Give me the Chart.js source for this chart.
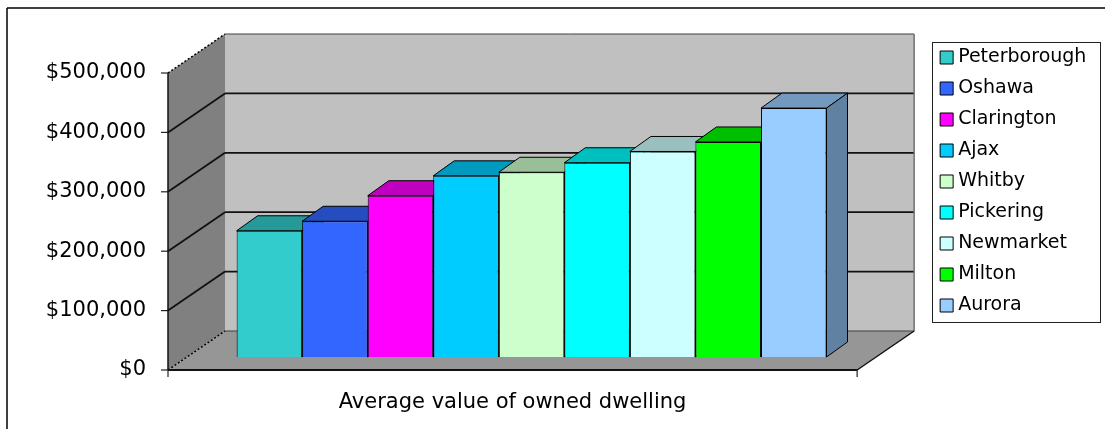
<!DOCTYPE html>
<html>
<head>
<meta charset="utf-8">
<script src="https://cdn.jsdelivr.net/npm/chart.js@4.4.1/dist/chart.umd.min.js"></script>
<style>
  html, body { margin: 0; padding: 0; background: #fff; }
  canvas { display: block; }
</style>
</head>
<body>
<canvas id="bar-chart" width="1105" height="429"></canvas>
<script>
const categories = ["Average value of owned dwelling"];
const cities = ["Peterborough", "Oshawa", "Clarington", "Ajax", "Whitby", "Pickering", "Newmarket", "Milton", "Aurora"];
const dwellingValues = [212500, 228500, 271500, 305000, 311000, 327000, 346000, 362000, 419000];
const cityColors = ["#33CCCC", "#3366FF", "#FF00FF", "#00CCFF", "#CCFFCC", "#00FFFF", "#CCFFFF", "#00FF00", "#99CCFF"];
const yTickValues = [0, 100000, 200000, 300000, 400000, 500000];

// oblique offsets of the fake 3d box, measured from the plane the bars stand in
const FRONT = { dx: -19, dy: 13 };
const BACK = { dx: 38, dy: -26 };
const DEPTH = { dx: 21, dy: -15 };

function shade(hex, f) {
  const n = parseInt(hex.slice(1), 16);
  const r = Math.round(((n >> 16) & 255) * f);
  const g = Math.round(((n >> 8) & 255) * f);
  const b = Math.round((n & 255) * f);
  return `rgb(${r},${g},${b})`;
}

function poly(ctx, pts, fill, stroke) {
  ctx.beginPath();
  ctx.moveTo(pts[0][0], pts[0][1]);
  for (let i = 1; i < pts.length; i++) ctx.lineTo(pts[i][0], pts[i][1]);
  ctx.closePath();
  if (fill) { ctx.fillStyle = fill; ctx.fill(); }
  if (stroke) { ctx.strokeStyle = stroke; ctx.lineWidth = 1; ctx.stroke(); }
}

function line(ctx, x1, y1, x2, y2, color, width, dash) {
  ctx.beginPath();
  ctx.setLineDash(dash || []);
  ctx.strokeStyle = color;
  ctx.lineWidth = width;
  ctx.moveTo(x1, y1);
  ctx.lineTo(x2, y2);
  ctx.stroke();
  ctx.setLineDash([]);
}

const box3d = {
  id: "box3d",
  beforeDraw(chart) {
    const ctx = chart.ctx;
    ctx.save();
    line(ctx, 7, 8, chart.width, 8, "#000", 1.5);
    line(ctx, 7, 8, 7, chart.height, "#000", 1.5);
    ctx.restore();
  },
  beforeDatasetsDraw(chart) {
    const { ctx, chartArea: a, scales: { y } } = chart;
    const yTop = y.getPixelForValue(yTickValues[yTickValues.length - 1]);
    const yZero = y.getPixelForValue(0);
    const fl = a.left + FRONT.dx, fr = a.right + FRONT.dx;
    const bl = a.left + BACK.dx, br = a.right + BACK.dx;
    ctx.save();

    // side wall, back wall, floor
    poly(ctx, [[fl, yTop + FRONT.dy], [bl, yTop + BACK.dy], [bl, yZero + BACK.dy], [fl, yZero + FRONT.dy]], "#808080");
    poly(ctx, [[bl, yTop + BACK.dy], [br, yTop + BACK.dy], [br, yZero + BACK.dy], [bl, yZero + BACK.dy]], "#c0c0c0");
    poly(ctx, [[fl, yZero + FRONT.dy], [fr, yZero + FRONT.dy], [br, yZero + BACK.dy], [bl, yZero + BACK.dy]], "#969696");

    // gridlines on both walls
    y.ticks.forEach(t => {
      const py = y.getPixelForValue(t.value);
      if (t.value === 0) {
        line(ctx, bl, py + BACK.dy, br, py + BACK.dy, "#404040", 1);
        line(ctx, fl, py + FRONT.dy, bl, py + BACK.dy, "#000", 1.5, [2, 2]);
      } else if (py <= yTop + 0.5) {
        line(ctx, bl, py + BACK.dy, br, py + BACK.dy, "#404040", 1);
        line(ctx, fl, py + FRONT.dy, bl, py + BACK.dy, "#000", 1.5, [2, 2]);
      } else {
        line(ctx, bl, py + BACK.dy, br, py + BACK.dy, "#111", 1.8);
        line(ctx, fl, py + FRONT.dy, bl, py + BACK.dy, "#111", 1.8);
      }
      // tick mark on the front axis
      line(ctx, fl - 7, py + FRONT.dy, fl, py + FRONT.dy, "#222", 1.2);
    });
    line(ctx, br, yTop + BACK.dy, br, yZero + BACK.dy, "#707070", 1.5);

    // front edges of the box
    line(ctx, fl, yTop + FRONT.dy, fl, yZero + FRONT.dy, "#111", 1.5);
    line(ctx, fl, yZero + FRONT.dy, fr, yZero + FRONT.dy, "#111", 2);
    line(ctx, fr, yZero + FRONT.dy, br, yZero + BACK.dy, "#111", 1.5);
    line(ctx, fl, yZero + FRONT.dy, fl, yZero + FRONT.dy + 7, "#222", 1.2);
    line(ctx, fr, yZero + FRONT.dy, fr, yZero + FRONT.dy + 7, "#222", 1.2);

    // top and side faces of each bar, left to right
    chart.data.datasets.forEach((ds, i) => {
      const bar = chart.getDatasetMeta(i).data[0];
      if (!bar) return;
      const xl = bar.x - bar.width / 2, xr = bar.x + bar.width / 2;
      const top = bar.y, base = bar.base;
      poly(ctx, [[xl, top], [xr, top], [xr + DEPTH.dx, top + DEPTH.dy], [xl + DEPTH.dx, top + DEPTH.dy]], shade(ds.backgroundColor, 0.75), "#000");
      poly(ctx, [[xr, top], [xr + DEPTH.dx, top + DEPTH.dy], [xr + DEPTH.dx, base + DEPTH.dy], [xr, base]], shade(ds.backgroundColor, 0.63), "#000");
    });
    ctx.restore();
  },
  afterDraw(chart) {
    const { ctx, legend } = chart;
    ctx.save();
    ctx.strokeStyle = "#222";
    ctx.lineWidth = 1;
    ctx.strokeRect(Math.round(legend.left) - 0.5, Math.round(legend.top) + 6.5, 168, 280);
    ctx.restore();
  }
};

const datasets = cities.map((name, i) => ({
  label: name,
  data: [dwellingValues[i]],
  backgroundColor: cityColors[i],
  borderColor: "#000",
  borderWidth: 1,
  categoryPercentage: 0.856,
  barPercentage: 1
}));

const ctx = document.getElementById("bar-chart").getContext("2d");
new Chart(ctx, {
  type: "bar",
  data: { labels: categories, datasets },
  plugins: [box3d],
  options: {
    responsive: false,
    animation: false,
    layout: { padding: { top: 36, right: 8.6, bottom: 0, left: 0 } },
    plugins: {
      title: { display: true, text: "", padding: 0, font: { size: 20, lineHeight: 1.2 } },
      tooltip: { enabled: false },
      legend: {
        position: "right",
        align: "start",
        labels: {
          usePointStyle: true,
          pointStyle: "rect",
          boxWidth: 4,
          boxHeight: 13,
          padding: 12,
          color: "#000",
          font: { family: "DejaVu Sans", size: 19 }
        }
      }
    },
    scales: {
      x: {
        grid: { display: false, drawTicks: false },
        border: { display: false },
        ticks: {
          color: "#000",
          padding: 33,
          labelOffset: FRONT.dx,
          maxRotation: 0,
          font: { family: "DejaVu Sans", size: 21 }
        },
        afterFit: s => { s.height = 72; }
      },
      y: {
        min: 0,
        max: 500000,
        grid: { display: false, drawTicks: false },
        border: { display: false },
        afterBuildTicks: s => { s.ticks = yTickValues.map(v => ({ value: v })); },
        ticks: {
          color: "#000",
          padding: 41,
          labelOffset: FRONT.dy,
          font: { family: "DejaVu Sans", size: 21 },
          callback: v => "$" + v.toLocaleString("en-US")
        },
        afterFit: s => { s.width = 187; }
      },
      gap: {
        position: "right",
        grid: { display: false, drawTicks: false },
        border: { display: false },
        ticks: { display: false },
        afterFit: s => { s.width = 56.5; }
      }
    }
  }
});
</script>
</body>
</html>
